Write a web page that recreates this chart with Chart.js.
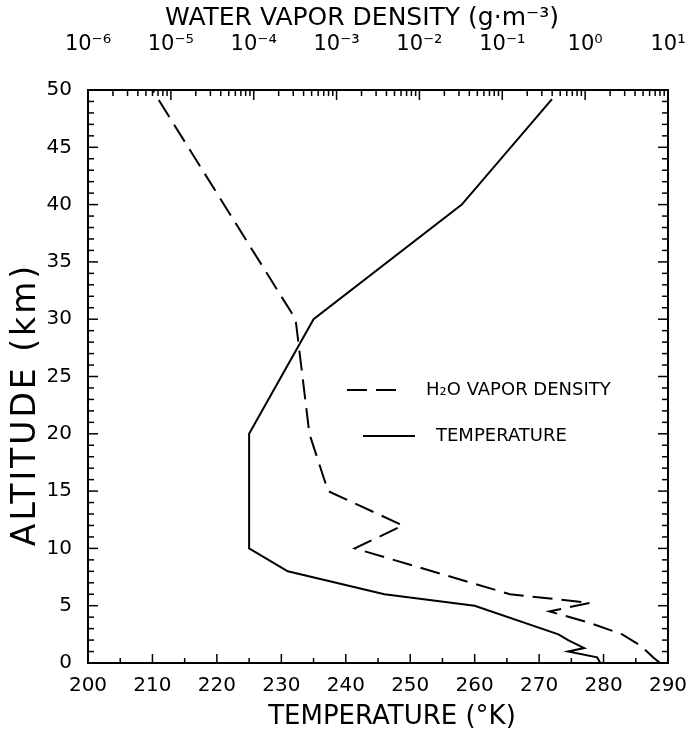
<!DOCTYPE html>
<html><head><meta charset="utf-8">
<script src="https://cdn.jsdelivr.net/npm/chart.js@4.4.0/dist/chart.umd.min.js"></script>
<style>html,body{margin:0;padding:0;background:#fff;}#wrap{width:694px;height:730px;position:relative;}</style>
</head><body><div id="wrap"><canvas id="c" width="694" height="730"></canvas></div>
<script>
// ---- data ----
const tempAltitude = [0, 0.5, 1.0, 1.3, 2.0, 2.5, 5, 6, 8, 10, 20, 30, 40, 49.2];
const temperature  = [279.5, 279, 274.5, 277, 274.5, 273, 260, 246, 231, 225, 225, 235, 258, 272];
const vaporAltitude = [0, 0.5, 1.5, 2.5, 3.5, 4.5, 5.25, 6, 10, 12, 15, 20, 30, 50];
const vaporDensity  = [8.0, 6.6, 4.7, 2.8, 1.14, 0.37, 1.14, 0.124, 1.66e-3, 6.3e-3, 7.9e-4, 4.7e-4, 3.2e-4, 6.0e-6];
const tempTicks = [200, 210, 220, 230, 240, 250, 260, 270, 280, 290];
const altTicks = [0, 5, 10, 15, 20, 25, 30, 35, 40, 45, 50];
const vaporTicks = [1e-6, 1e-5, 1e-4, 1e-3, 1e-2, 1e-1, 1e0, 1e1];
const legendLabels = ['H\u2082O VAPOR DENSITY', 'TEMPERATURE'];

const FONT = 'DejaVu Sans';
const SUP = {'-':'\u207B','0':'\u2070','1':'\u00B9','2':'\u00B2','3':'\u00B3','4':'\u2074','5':'\u2075','6':'\u2076','7':'\u2077','8':'\u2078','9':'\u2079'};
function supText(n){ return String(n).split('').map(c=>SUP[c]).join(''); }
function noPad(s){ s.paddingLeft = 0; s.paddingRight = 0; s.paddingTop = 0; s.paddingBottom = 0; }

// title style tweaks: letter spacing and small shift along the axis
const titleStyle = { y:{ls:'3px', dx:0, dy:28}, x:{ls:'0px', dx:14, dy:0}, x2:{ls:'0px', dx:-16, dy:0} };

const framePlugin = {
  id: 'frame',
  afterLayout(chart) {
    Object.keys(titleStyle).forEach(id => {
      const s = chart.scales[id];
      if (s && !s._lsWrapped) {
        const orig = s.drawTitle.bind(s);
        const st = titleStyle[id];
        s.drawTitle = function() {
          const ctx = this.ctx;
          ctx.save();
          ctx.letterSpacing = st.ls;
          ctx.translate(st.dx, st.dy);
          orig();
          ctx.restore();
        };
        s._lsWrapped = true;
      }
    });
  },
  afterDatasetsDraw(chart) {
    const {ctx, chartArea:{left,right,top,bottom}, scales:{x, x2, y}} = chart;
    ctx.save();
    ctx.strokeStyle = '#000';
    ctx.lineWidth = 1.5;
    const seg = (a,b,c,d)=>{ctx.beginPath();ctx.moveTo(a,b);ctx.lineTo(c,d);ctx.stroke();};
    for (let a = y.min; a <= y.max; a++) {
      const py = y.getPixelForValue(a);
      const L = a % 5 === 0 ? 10 : 6;
      seg(left, py, left + L, py);
      seg(right, py, right - L, py);
    }
    for (let t = x.min; t <= x.max; t += 5) {
      const px = x.getPixelForValue(t);
      const L = t % 10 === 0 ? 9 : 5;
      seg(px, bottom, px, bottom - L);
    }
    for (let e = -6; e < 1; e++) {
      for (let m = 1; m < 10; m++) {
        const px = x2.getPixelForValue(m * Math.pow(10, e));
        seg(px, top, px, top + (m === 1 ? 10 : 6));
      }
    }
    ctx.lineWidth = 2;
    ctx.strokeRect(left, top, right - left, bottom - top);
    // legend
    const ds = chart.data.datasets;
    ctx.font = '18px "' + FONT + '"';
    ctx.fillStyle = '#000';
    ctx.textBaseline = 'middle';
    ctx.lineWidth = 2;
    ctx.setLineDash(ds[1].borderDash);
    seg(347, 390, 405, 390);
    ctx.setLineDash([]);
    ctx.fillText(legendLabels[0], 426, 390);
    seg(363, 436, 415, 436);
    ctx.fillText(legendLabels[1], 436, 436);
    ctx.restore();
  }
};

new Chart(document.getElementById('c'), {
  type: 'scatter',
  data: {
    datasets: [
      { label: legendLabels[1], data: temperature.map((t,i)=>({x:t, y:tempAltitude[i]})),
        xAxisID:'x', yAxisID:'y', showLine:true, borderColor:'#000', borderWidth:2, pointRadius:0, tension:0 },
      { label: legendLabels[0], data: vaporDensity.map((v,i)=>({x:v, y:vaporAltitude[i]})),
        xAxisID:'x2', yAxisID:'y', showLine:true, borderColor:'#000', borderWidth:2, borderDash:[20,9], pointRadius:0, tension:0 }
    ]
  },
  options: {
    responsive:false, animation:false, devicePixelRatio:1,
    layout:{padding:{left:0, right:26, top:0, bottom:0}},
    plugins:{legend:{display:false}, tooltip:{enabled:false}},
    scales:{
      x:{ type:'linear', position:'bottom', min:200, max:290,
        afterBuildTicks:s=>{s.ticks = tempTicks.map(v=>({value:v}));},
        grid:{display:false, drawTicks:false}, border:{display:false},
        ticks:{color:'#000', font:{family:FONT, size:20}, padding:11, maxRotation:0, autoSkip:false},
        title:{display:true, text:'TEMPERATURE (\u00B0K)', color:'#000', font:{family:FONT, size:26, lineHeight:1.0}, padding:{top:0,bottom:0}},
        afterFit:s=>{s.height = 67; noPad(s);} },
      x2:{ type:'logarithmic', position:'top', min:1e-6, max:10,
        afterBuildTicks:s=>{s.ticks = vaporTicks.map(v=>({value:v}));},
        grid:{display:false, drawTicks:false}, border:{display:false},
        ticks:{color:'#000', font:{family:FONT, size:21}, padding:33, maxRotation:0, autoSkip:false,
          callback:v=>'10' + supText(Math.round(Math.log10(v)))},
        title:{display:true, text:'WATER VAPOR DENSITY (g\u00B7m\u207B\u00B3)', color:'#000', font:{family:FONT, size:25, lineHeight:1.1}, padding:{top:5,bottom:0}},
        afterFit:s=>{s.height = 90; noPad(s);} },
      y:{ type:'linear', position:'left', min:0, max:50,
        afterBuildTicks:s=>{s.ticks = altTicks.map(v=>({value:v}));},
        grid:{display:false, drawTicks:false}, border:{display:false},
        ticks:{color:'#000', font:{family:FONT, size:20}, padding:16, autoSkip:false},
        title:{display:true, text:'ALTITUDE (km)', color:'#000', font:{family:FONT, size:33, lineHeight:1.1}, padding:{top:8,bottom:0}},
        afterFit:s=>{s.width = 88; noPad(s);} }
    }
  },
  plugins:[framePlugin]
});
</script></body></html>
